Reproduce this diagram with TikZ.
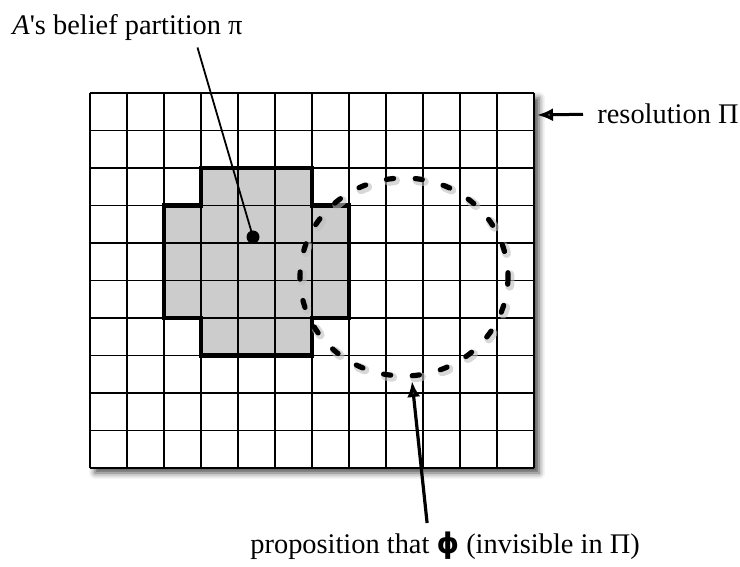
\documentclass[tikz,border=0pt]{standalone}
\usepackage{fontspec}
\setmainfont{Liberation Serif}
\newfontfamily\phifont{DejaVu Sans}
\usetikzlibrary{arrows.meta, shadows.blur}

\begin{document}
\begin{tikzpicture}[x=0.5pt, y=-0.5pt,
  caption/.style={font=\fontsize{14.2}{17}\selectfont, inner sep=0pt},
  cellline/.style={line width=0.8pt},
  region/.style={line width=2.4pt, line join=miter, fill=black!20},
  prop/.style={line width=2.6pt, line cap=round, dash pattern=on 3.6pt off 10.8pt},
  arr/.style={-{Latex[length=8pt,width=6.5pt]}, line width=1.5pt},
  pointer/.style={line width=0.9pt}
]
  \useasboundingbox (0,0) rectangle (740,567);
  % the board
  \fill[white, blur shadow={shadow xshift=2.5pt, shadow yshift=-2.5pt,
        shadow blur radius=3pt, shadow opacity=70}] (90,93) rectangle (534,468);
  % belief partition
  \filldraw[region] (201,168) -- (312,168) -- (312,205.5) -- (349,205.5)
    -- (349,318) -- (312,318) -- (312,355.5) -- (201,355.5) -- (201,318)
    -- (164,318) -- (164,205.5) -- (201,205.5) -- cycle;
  % resolution cells
  \foreach \i in {0,...,12}
    \draw[cellline] ({90+37*\i},93) -- ({90+37*\i},468);
  \foreach \j in {0,...,10}
    \draw[cellline] (90,{93+37.5*\j}) -- (534,{93+37.5*\j});
  % proposition
  \draw[prop, black!25, opacity=0.6, line width=4.5pt, shift={(2,2)}]
    (404,277) ellipse [x radius=104, y radius=99];
  \draw[prop] (404,277) ellipse [x radius=104, y radius=99];

  \coordinate (pi) at (253,237);
  \coordinate (phi) at (412,381);
  \coordinate (corner) at (537,115);
  \fill (pi) circle [radius=6.5];

  \node[caption, anchor=base west] (belief) at (12,35)
    {\textit{A}\textquotesingle s belief partition π};
  \node[caption, anchor=base west] (resolution) at (597,124) {resolution Π};
  \node[caption, anchor=base west] (proposition) at (250,553)
    {proposition that {\phifont\bfseries ϕ} (invisible in Π)};

  \draw[pointer] ([xshift=35pt,yshift=-3pt]belief.south) -- (pi);
  \draw[arr] ([xshift=-7pt]resolution.west) -- (corner);
  \draw[arr, line width=1.6pt]
    ([xshift=-9pt,yshift=4pt]proposition.north) -- (phi);
\end{tikzpicture}
\end{document}
